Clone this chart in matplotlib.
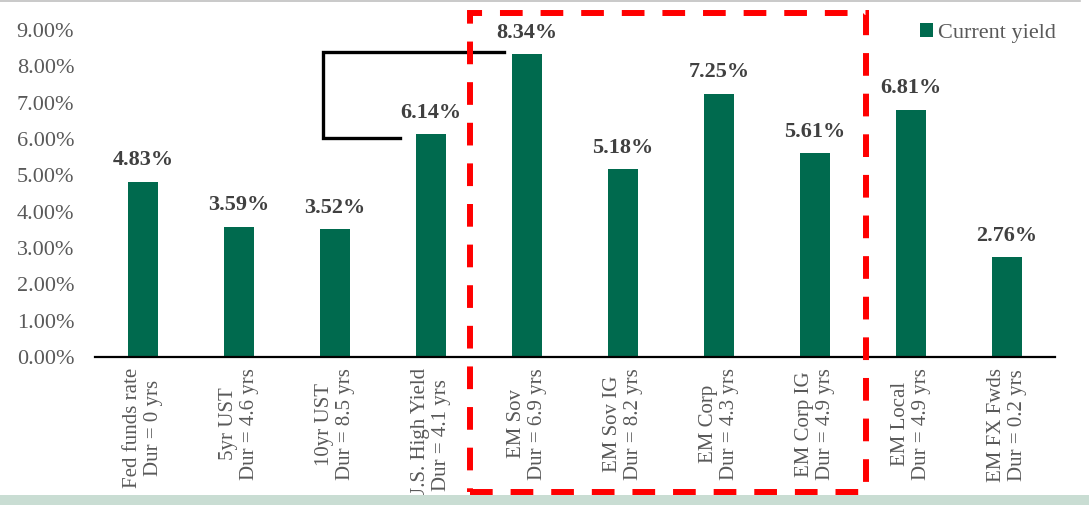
import matplotlib
matplotlib.use("Agg")
import matplotlib.pyplot as plt
from matplotlib.patches import Rectangle
from matplotlib.lines import Line2D
import matplotlib.transforms as mtransforms
from matplotlib.ticker import FuncFormatter

categories = ["Fed funds rate\nDur = 0 yrs", "5yr UST\nDur = 4.6 yrs", "10yr UST\nDur = 8.5 yrs",
              "U.S. High Yield\nDur = 4.1 yrs", "EM Sov\nDur = 6.9 yrs", "EM Sov IG\nDur = 8.2 yrs",
              "EM Corp\nDur = 4.3 yrs", "EM Corp IG\nDur = 4.9 yrs", "EM Local\nDur = 4.9 yrs",
              "EM FX Fwds\nDur = 0.2 yrs"]
current_yield = [4.83, 3.59, 3.52, 6.14, 8.34, 5.18, 7.25, 5.61, 6.81, 2.76]
y_ticks = [0, 1, 2, 3, 4, 5, 6, 7, 8, 9]
series_name = "Current yield"

plt.rcParams['font.family'] = ['Liberation Serif', 'DejaVu Serif']

GREEN = "#006A4E"
W, H = 1089, 505
fig = plt.figure(figsize=(W / 100, H / 100), dpi=100)
ax = fig.add_axes([95 / W, 1 - 357 / H, (1055 - 95) / W, (357 - 30) / H])

x = list(range(len(categories)))
bars = ax.bar(x, current_yield, width=0.31, color=GREEN, label=series_name, zorder=3)
ax.set_xlim(-0.5, len(categories) - 0.5)
ax.set_ylim(0, 9)
ax.set_yticks(y_ticks)
ax.yaxis.set_major_formatter(FuncFormatter(lambda v, p: f"{v:.2f}%"))
ax.tick_params(axis='y', length=0, labelsize=16, labelcolor="#595959", pad=15)
ax.set_xticks(x)
ax.set_xticklabels(categories, rotation=90, ha='center', va='top', multialignment='center',
                   fontsize=15, color="#595959", linespacing=1.15)
ax.tick_params(axis='x', length=0, pad=8)
for s in ["top", "right", "left"]:
    ax.spines[s].set_visible(False)
ax.spines["bottom"].set_linewidth(1.6)
ax.spines["bottom"].set_color("black")
ax.spines["bottom"].set_zorder(4)

for xi, v in zip(x, current_yield):
    ax.annotate(f"{v:.2f}%", (xi, v), xytext=(0, 8), textcoords="offset points",
                ha='center', va='bottom', fontsize=16, fontweight='bold', color="#404040")

leg = ax.legend(loc='upper right', bbox_to_anchor=(1.010, 1.05), frameon=False, fontsize=16,
                handlelength=0.62, handleheight=0.62, handletextpad=0.2, borderaxespad=0)
for t in leg.get_texts():
    t.set_color("#595959")

# bracket linking U.S. High Yield to EM Sov
top_y = current_yield[4] + 0.05
low_y = current_yield[3] - 0.12
bx = 1.875
ax.add_line(Line2D([3.76, bx, bx, 2.68], [top_y, top_y, low_y, low_y], color="black",
                   lw=2.4, clip_on=False, zorder=5, solid_joinstyle='miter'))

# red dashed box around EM hard-currency group
trans = mtransforms.blended_transform_factory(ax.transData, fig.transFigure)
rect = Rectangle((3.41, 1 - 492 / H), 7.53 - 3.41, (492 - 12.5) / H, transform=trans,
                 fill=False, edgecolor="#FF0000", lw=4.3, linestyle=(0, (3.8, 3.0)),
                 clip_on=False, zorder=6)
fig.add_artist(rect)

# decorative frame elements
fig.add_artist(Rectangle((0, 0), 1, 10 / H, transform=fig.transFigure, facecolor="#C9DDD3",
                         edgecolor='none', zorder=10))
fig.add_artist(Line2D([0, 1080 / W], [1 - 0.8 / H, 1 - 0.8 / H], transform=fig.transFigure,
                      color="#C0C0C0", lw=1.2))

fig.savefig("out.png", dpi=100)
